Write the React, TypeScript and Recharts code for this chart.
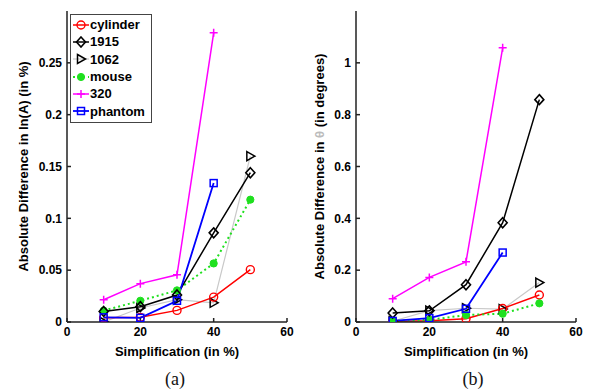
import React from "react";
import { LineChart, Line, XAxis, YAxis, Legend } from "recharts";

// x positions (Simplification in %)
const simplification = [10, 20, 30, 40, 50];
const xTicks = [0, 20, 40, 60];

// panel (a): Absolute Difference in ln(A)
const cylinderA = [0.004, 0.0045, 0.0112, 0.024, 0.0505];
const m1915A = [0.0102, 0.0148, 0.026, 0.086, 0.144];
const m1062A = [0.0, 0.0135, 0.0215, 0.0185, 0.16];
const mouseA = [0.011, 0.0205, 0.0305, 0.0565, 0.118];
const m320A = [0.0215, 0.037, 0.0455, 0.279];
const phantomA = [0.0045, 0.004, 0.0205, 0.134];
const yTicksA = [0, 0.05, 0.1, 0.15, 0.2, 0.25];

// panel (b): Absolute Difference in theta
const cylinderB = [0.002, 0.005, 0.013, 0.052, 0.104];
const m1915B = [0.035, 0.043, 0.144, 0.383, 0.858];
const m1062B = [0.003, 0.044, 0.053, 0.05, 0.152];
const mouseB = [0.004, 0.008, 0.027, 0.032, 0.072];
const m320B = [0.09, 0.172, 0.232, 1.058];
const phantomB = [0.004, 0.015, 0.051, 0.268];
const yTicksB = [0, 0.2, 0.4, 0.6, 0.8, 1];

const FONT = "'Liberation Sans', Arial, Helvetica, sans-serif";

type Kind = "circle" | "diamond" | "triangle" | "dot" | "plus" | "square";

interface SeriesStyle {
  name: string;
  color: string;
  lineColor: string;
  kind: Kind;
  dash?: string;
  width: number;
}

const seriesStyles: SeriesStyle[] = [
  { name: "cylinder", color: "#ff0000", lineColor: "#ff0000", kind: "circle", width: 1.5 },
  { name: "1915", color: "#000000", lineColor: "#000000", kind: "diamond", width: 1.5 },
  { name: "1062", color: "#000000", lineColor: "#c8c8c8", kind: "triangle", width: 1.2 },
  { name: "mouse", color: "#1fe01f", lineColor: "#1fe01f", kind: "dot", dash: "2 3", width: 2 },
  { name: "320", color: "#ff00ff", lineColor: "#ff00ff", kind: "plus", width: 1.5 },
  { name: "phantom", color: "#0000ff", lineColor: "#0000ff", kind: "square", width: 1.8 }
];

function toPoints(values: number[]) {
  return values.map((y, i) => ({ x: simplification[i], y }));
}

function Marker(props: { kind: Kind; cx: number; cy: number; color: string }) {
  const { kind, cx, cy, color } = props;
  switch (kind) {
    case "circle":
      return <circle cx={cx} cy={cy} r={4} fill="none" stroke={color} strokeWidth={1.4} />;
    case "diamond":
      return (
        <polygon
          points={`${cx},${cy - 5} ${cx + 4.5},${cy} ${cx},${cy + 5} ${cx - 4.5},${cy}`}
          fill="none"
          stroke={color}
          strokeWidth={1.6}
        />
      );
    case "triangle":
      return (
        <polygon
          points={`${cx - 3.5},${cy - 4.5} ${cx + 4.5},${cy} ${cx - 3.5},${cy + 4.5}`}
          fill="none"
          stroke={color}
          strokeWidth={1.5}
        />
      );
    case "dot":
      return <circle cx={cx} cy={cy} r={3.6} fill={color} stroke={color} />;
    case "plus":
      return (
        <path
          d={`M${cx - 4},${cy}H${cx + 4}M${cx},${cy - 4}V${cy + 4}`}
          stroke={color}
          strokeWidth={1.5}
          fill="none"
        />
      );
    default:
      return (
        <rect x={cx - 3.5} y={cy - 3.5} width={7} height={7} fill="none" stroke={color} strokeWidth={1.5} />
      );
  }
}

function renderLegend() {
  return (
    <div
      style={{
        border: "1px solid #444",
        background: "#fff",
        width: 80,
        padding: "1px 0 2px 0",
        fontFamily: FONT,
        fontWeight: "bold",
        fontSize: 13,
        color: "#000"
      }}
    >
      {seriesStyles.map((s) => (
        <div key={s.name} style={{ display: "flex", alignItems: "center", height: 17.3 }}>
          <svg width={18} height={12} style={{ marginLeft: 1, marginRight: 0 }}>
            <line
              x1={1}
              y1={6}
              x2={17}
              y2={6}
              stroke={s.lineColor}
              strokeWidth={s.width}
              strokeDasharray={s.dash}
            />
            <Marker kind={s.kind} cx={9} cy={6} color={s.color} />
          </svg>
          <span style={{ lineHeight: "13px" }}>{s.name}</span>
        </div>
      ))}
    </div>
  );
}

const tickStyle = { fill: "#000", fontSize: 12, fontWeight: "bold", fontFamily: FONT };
const axisStroke = { stroke: "#222", strokeWidth: 1.5 };

interface PanelProps {
  series: number[][];
  yMax: number;
  yTicks: number[];
  yAxisWidth: number;
  rightMargin: number;
  labelParts: { text: string; color?: string }[];
  showLegend: boolean;
}

function Panel(props: PanelProps) {
  const { series, yMax, yTicks, yAxisWidth, rightMargin, labelParts, showLegend } = props;

  const yLabel = (p: any) => {
    const vb = p.viewBox || {};
    const x = (vb.x || 0) + 28;
    const y = (vb.y || 0) + (vb.height || 0) / 2;
    return (
      <text
        x={x}
        y={y}
        transform={`rotate(-90, ${x}, ${y})`}
        textAnchor="middle"
        fontFamily={FONT}
        fontWeight="bold"
        fontSize={13}
        fill="#000"
      >
        {labelParts.map((part, i) => (
          <tspan key={i} fill={part.color || "#000"}>
            {part.text}
          </tspan>
        ))}
      </text>
    );
  };

  const xLabel = (p: any) => {
    const vb = p.viewBox || {};
    const x = (vb.x || 0) + (vb.width || 0) / 2;
    const y = (vb.y || 0) + 33.5;
    return (
      <text x={x} y={y} textAnchor="middle" fontFamily={FONT} fontWeight="bold" fontSize={13} fill="#000">
        Simplification (in %)
      </text>
    );
  };

  return (
    <LineChart
      width={296}
      height={389}
      margin={{ top: 11, right: rightMargin, left: 0, bottom: 27 }}
    >
      <XAxis
        xAxisId="b"
        type="number"
        dataKey="x"
        domain={[0, 60]}
        ticks={xTicks}
        allowDataOverflow
        height={40}
        tick={tickStyle}
        tickSize={-4}
        tickMargin={9}
        axisLine={axisStroke}
        tickLine={axisStroke}
        label={xLabel}
      />
      <XAxis
        xAxisId="t"
        orientation="top"
        type="number"
        dataKey="x"
        domain={[0, 60]}
        ticks={xTicks}
        allowDataOverflow
        height={0}
        tickSize={-4}
        tickFormatter={() => ""}
        axisLine={axisStroke}
        tickLine={axisStroke}
      />
      <YAxis
        yAxisId="l"
        type="number"
        domain={[0, yMax]}
        ticks={yTicks}
        allowDataOverflow
        width={yAxisWidth}
        tick={tickStyle}
        tickSize={-4}
        tickMargin={9}
        axisLine={axisStroke}
        tickLine={axisStroke}
        label={yLabel}
      />
      <YAxis
        yAxisId="r"
        orientation="right"
        type="number"
        domain={[0, yMax]}
        ticks={yTicks}
        allowDataOverflow
        width={0}
        tickSize={-4}
        tickFormatter={() => ""}
        axisLine={axisStroke}
        tickLine={axisStroke}
      />
      {showLegend && (
        <Legend
          layout="vertical"
          align="center"
          verticalAlign="middle"
          wrapperStyle={{ left: 70, top: 14 }}
          content={renderLegend}
        />
      )}
      {[2, 0, 3, 1, 5, 4].map((idx) => {
        const s = seriesStyles[idx];
        return (
          <Line
            key={s.name}
            name={s.name}
            xAxisId="b"
            yAxisId="l"
            data={toPoints(series[idx])}
            dataKey="y"
            stroke={s.lineColor}
            strokeWidth={s.width}
            strokeDasharray={s.dash}
            isAnimationActive={false}
            dot={(p: any) => (
              <Marker key={`${s.name}-${p.index}`} kind={s.kind} cx={p.cx} cy={p.cy} color={s.color} />
            )}
            activeDot={false}
          />
        );
      })}
    </LineChart>
  );
}

const captionStyle: React.CSSProperties = {
  position: "absolute",
  top: 368,
  width: 40,
  textAlign: "center",
  fontFamily: "'Liberation Serif', 'Times New Roman', serif",
  fontSize: 18,
  lineHeight: "22px",
  color: "#111"
};

export default function App() {
  return (
    <div
      style={{
        position: "absolute",
        left: 0,
        top: 0,
        width: 592,
        height: 389,
        background: "#fff",
        overflow: "hidden"
      }}
    >
      <div style={{ position: "absolute", left: 0, top: 0 }}>
        <Panel
          series={[cylinderA, m1915A, m1062A, mouseA, m320A, phantomA]}
          yMax={0.3}
          yTicks={yTicksA}
          yAxisWidth={67}
          rightMargin={9}
          labelParts={[{ text: "Absolute Difference in ln(A) (in %)" }]}
          showLegend
        />
      </div>
      <div style={{ position: "absolute", left: 296, top: 0 }}>
        <Panel
          series={[cylinderB, m1915B, m1062B, mouseB, m320B, phantomB]}
          yMax={1.2}
          yTicks={yTicksB}
          yAxisWidth={60}
          rightMargin={16}
          labelParts={[
            { text: "Absolute Difference in " },
            { text: "\u03b8", color: "#bbb" },
            { text: " (in degrees)" }
          ]}
          showLegend={false}
        />
      </div>
      <div style={{ ...captionStyle, left: 155 }}>(a)</div>
      <div style={{ ...captionStyle, left: 453 }}>(b)</div>
    </div>
  );
}
